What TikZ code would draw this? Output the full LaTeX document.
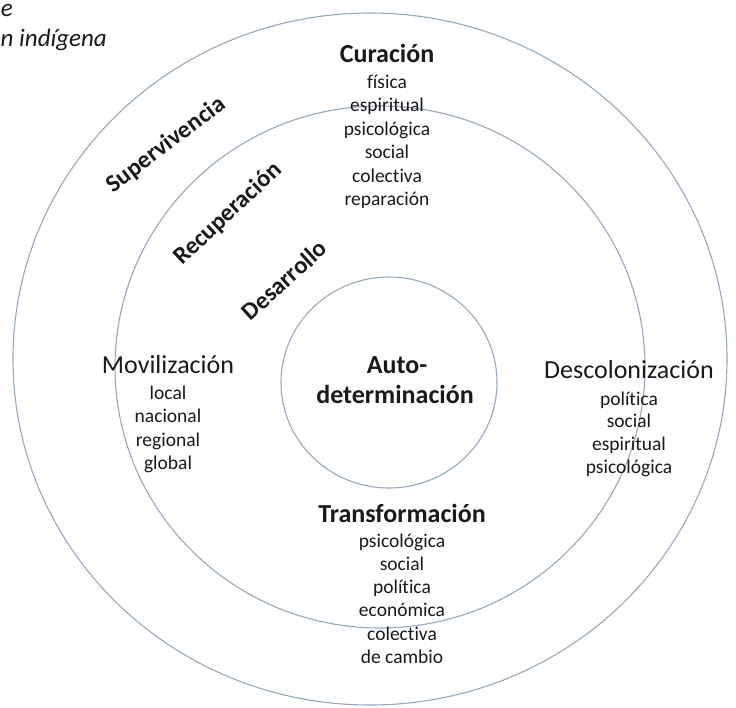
\documentclass[tikz,border=0pt]{standalone}
\usepackage{fontspec}
\setmainfont{Carlito}[Ligatures=NoCommon]
\usetikzlibrary{shapes.geometric}
\definecolor{ringcol}{RGB}{150,168,190}
\definecolor{txt}{RGB}{25,25,25}
\tikzset{
  ring/.style={ellipse, draw=ringcol, line width=1.1pt, inner sep=0pt},
  big/.style={font=\fontsize{26}{30}\selectfont, text=txt, inner sep=0pt, anchor=base},
  bigbold/.style={font=\fontsize{26}{30}\selectfont\bfseries, text=txt, inner sep=0pt, anchor=base},
  sub/.style={font=\fontsize{19.5}{23}\selectfont, text=txt, inner sep=0pt, anchor=base},
  diag/.style={font=\fontsize{24.5}{28}\selectfont\bfseries, text=txt, inner sep=0pt, anchor=center},
  corner/.style={font=\fontsize{25}{29}\selectfont\itshape, text=txt, inner sep=0pt}
}
\begin{document}
\begin{tikzpicture}[x=1pt,y=-1pt]
\useasboundingbox (0,0) rectangle (736,707);
% rings
\node[ring, minimum width=714pt, minimum height=692pt] (outer) at (370,359) {};
\node[ring, minimum width=530pt, minimum height=522pt] (middle) at (380,367) {};
\node[ring, minimum width=216pt, minimum height=211pt] (inner) at (389,382.5) {};
% corner text
\node[corner, anchor=base east] (c1) at (13,16) {e};
\node[corner, anchor=base west] (c2) at (0.5,46) {n indígena};
% diagonal labels
\node[diag, rotate=37] (superv) at (166,145) {Supervivencia};
\node[diag, rotate=43] (recup) at (228,214) {Recuperación};
\node[diag, rotate=42] (desar) at (284,280) {Desarrollo};
% center
\node[bigbold] (auto1) at (397,373) {Auto-};
\node[bigbold] (auto2) at (395,403) {determinación};
% Curacion
\node[bigbold] (cur) at (387,62) {Curación};
\foreach \t [count=\i] in {física,espiritual,psicológica,social,colectiva,reparación}
  \node[sub] (cur\i) at (387,{88+23.5*(\i-1)}) {\t};
% Movilizacion
\node[big] (mov) at (168,373) {Movilización};
\foreach \t [count=\i] in {local,nacional,regional,global}
  \node[sub] (mov\i) at (168,{399+23.5*(\i-1)}) {\t};
% Descolonizacion
\node[big] (desc) at (629,378) {Descolonización};
\foreach \t [count=\i] in {política,social,espiritual,psicológica}
  \node[sub] (desc\i) at (629,{405+22.8*(\i-1)}) {\t};
% Transformacion
\node[bigbold] (trans) at (402,522) {Transformación};
\foreach \t [count=\i] in {psicológica,social,política,económica,colectiva,de cambio}
  \node[sub] (trans\i) at (402,{547+23.3*(\i-1)}) {\t};
\end{tikzpicture}
\end{document}
